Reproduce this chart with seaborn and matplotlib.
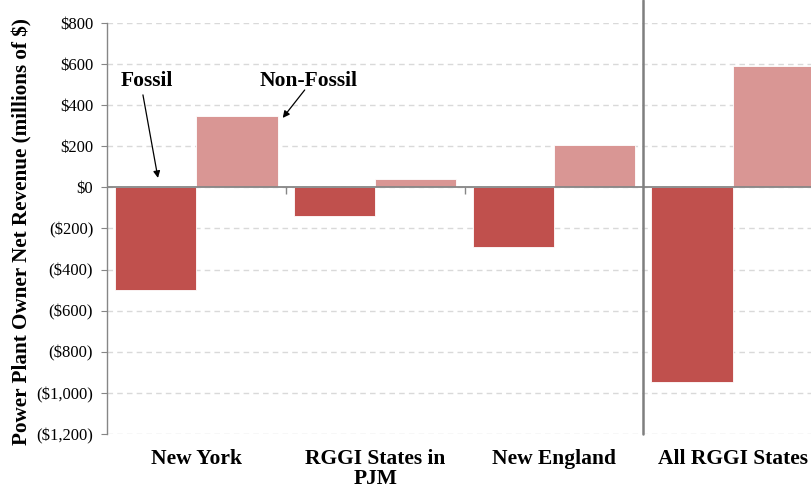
import pandas as pd
import seaborn as sns
import matplotlib.pyplot as plt
from matplotlib.ticker import FuncFormatter, MultipleLocator

# Net revenue change by region (millions of $)
regions = ['New York', 'RGGI States in\nPJM', 'New England', 'All RGGI States']
fossil = [-500, -140, -290, -945]
non_fossil = [345, 42, 205, 590]
series_names = ['Fossil', 'Non-Fossil']
colors = ['#C0504D', '#D99694']

df = pd.DataFrame({
    'region': regions * 2,
    'revenue': fossil + non_fossil,
    'type': [series_names[0]] * len(regions) + [series_names[1]] * len(regions),
})

sns.set_style('white')
plt.rcParams['font.family'] = ['Liberation Serif', 'DejaVu Serif']
plt.rcParams['text.color'] = 'black'
plt.rcParams['axes.labelcolor'] = 'black'
plt.rcParams['xtick.color'] = 'black'
plt.rcParams['ytick.color'] = 'black'

fig = plt.figure(figsize=(8.12, 4.94), dpi=100)
ax = fig.add_axes([0.1318, 0.1215, 0.8805, 0.832])

sns.barplot(data=df, x='region', y='revenue', hue='type', palette=colors,
            width=0.91, saturation=1, edgecolor='white', linewidth=0.6,
            legend=False, ax=ax)

ax.set_xlim(-0.5, 3.5)
ax.set_ylim(-1200, 800)
ax.yaxis.set_major_locator(MultipleLocator(200))


def money(v, pos):
    if v < 0:
        return f'(${-v:,.0f})'
    return f'${v:,.0f}'


ax.yaxis.set_major_formatter(FuncFormatter(money))
ax.yaxis.grid(True, linestyle=(0, (4, 3)), color='#D9D9D9', linewidth=1)
ax.set_axisbelow(True)

for side in ['top', 'right', 'bottom']:
    ax.spines[side].set_visible(False)
ax.spines['left'].set_color('#868686')
ax.spines['left'].set_linewidth(1)

ax.tick_params(axis='y', direction='out', length=4, color='#868686',
               labelcolor='black', labelsize=12, pad=6, left=True)
ax.tick_params(axis='x', length=0, pad=11, labelcolor='black')
for lab in ax.get_xticklabels():
    lab.set_fontweight('bold')
    lab.set_fontsize(15.5)
    lab.set_linespacing(1.0)

ax.set_xlabel('')
ax.set_ylabel('Power Plant Owner Net Revenue (millions of $)',
              fontsize=15.2, fontweight='bold', color='black')
ax.yaxis.set_label_coords(-0.104, 0.492)

# zero line, small category ticks and the separator before the total
ax.axhline(0, color='#868686', linewidth=1.3, zorder=3)
ax.vlines([0.5, 1.5], -34, 0, color='#868686', linewidth=1, zorder=3)
ax.axvline(2.5, ymin=0, ymax=1.056, color='#7F7F7F', linewidth=1.8,
           clip_on=False, zorder=3)

# series labels with arrows
ax.text(-0.279, 520, 'Fossil', ha='center', va='center',
        fontsize=15.5, fontweight='bold', color='black')
ax.annotate('', xy=(-0.215, 46), xytext=(-0.299, 450),
            arrowprops=dict(arrowstyle='-|>', color='black', lw=0.9,
                            mutation_scale=10, shrinkA=0, shrinkB=0))
ax.text(0.626, 520, 'Non-Fossil', ha='center', va='center',
        fontsize=15.5, fontweight='bold', color='black')
ax.annotate('', xy=(0.483, 338), xytext=(0.606, 474),
            arrowprops=dict(arrowstyle='-|>', color='black', lw=0.9,
                            mutation_scale=10, shrinkA=0, shrinkB=0))

fig.savefig('out.png', dpi=100)
